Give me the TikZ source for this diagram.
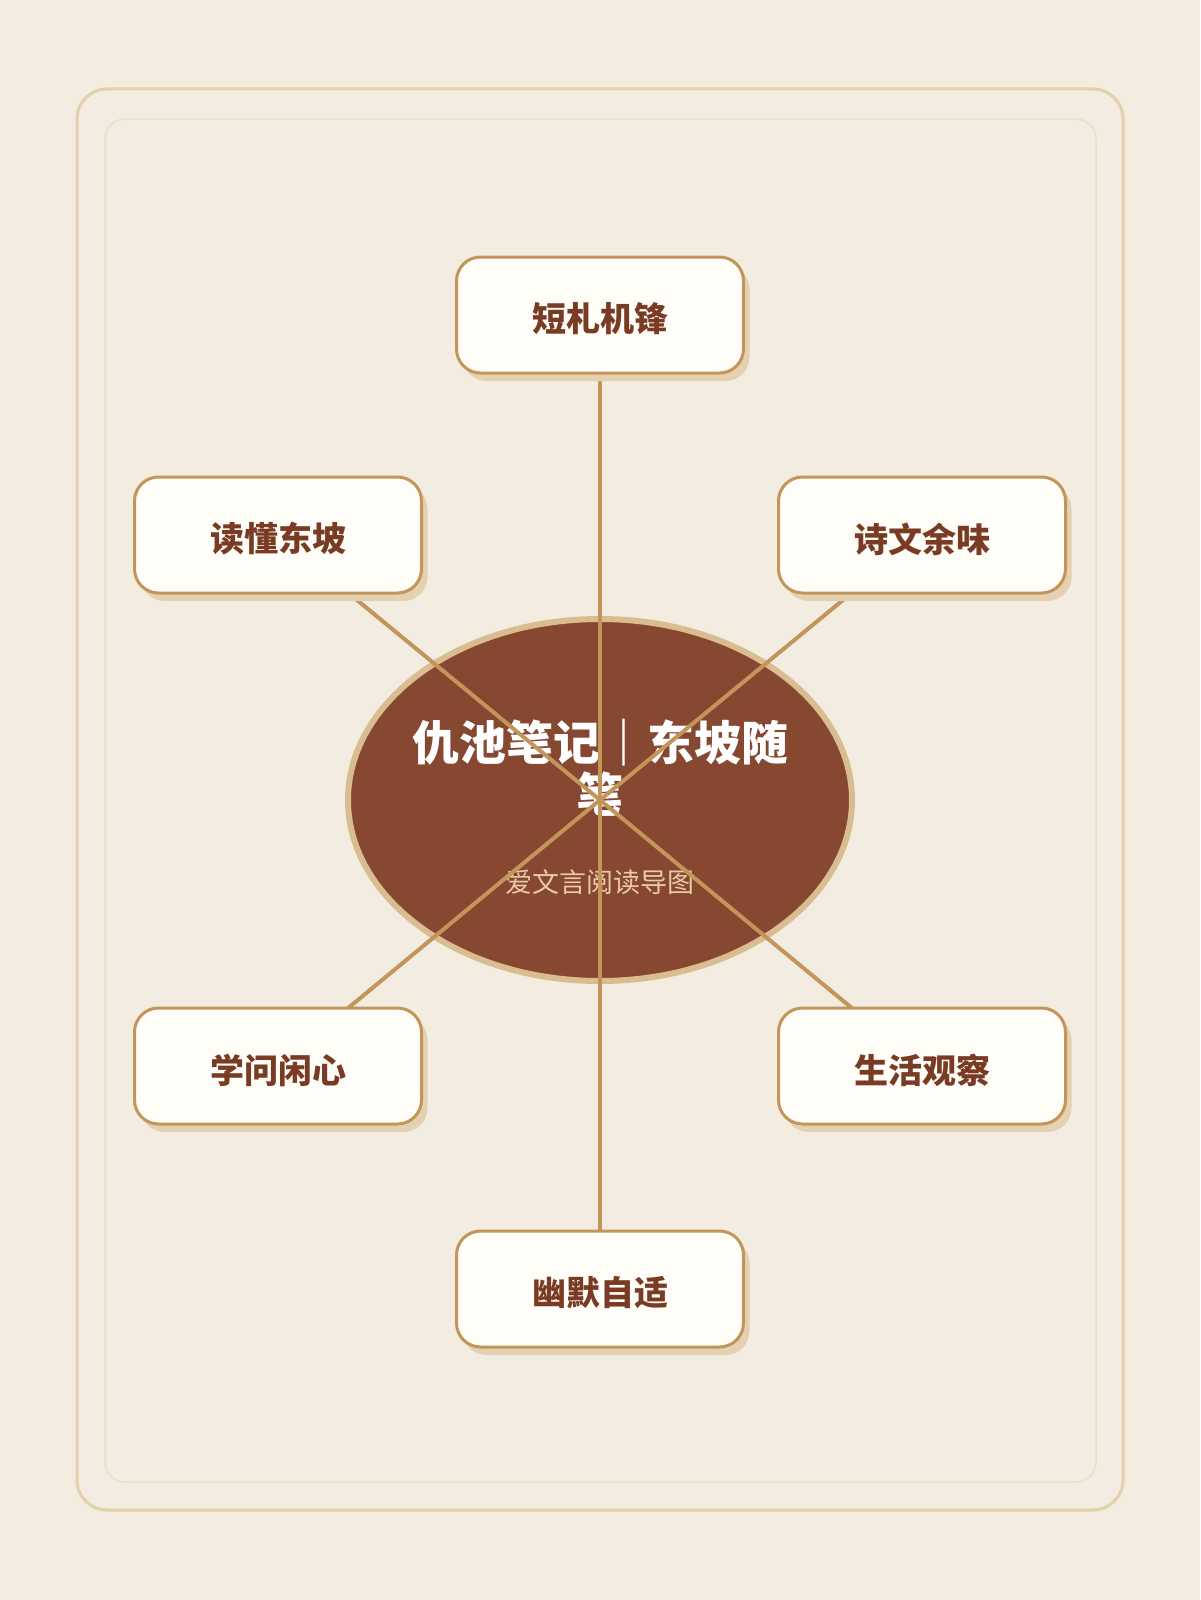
\documentclass[tikz,border=0pt]{standalone}
\usepackage{fontspec}
\usetikzlibrary{shapes.geometric,shadows}
\newfontfamily\cjk{Noto Sans CJK SC}
\definecolor{paper}{HTML}{F2ECE1}
\definecolor{frameout}{HTML}{E3D0AC}
\definecolor{framein}{HTML}{ECDFC6}
\definecolor{bark}{HTML}{864831}
\definecolor{barkrim}{HTML}{D9BD91}
\definecolor{gold}{HTML}{C4955A}
\definecolor{leaffill}{HTML}{FFFDF8}
\definecolor{leafshadow}{HTML}{E4D1B1}
\definecolor{leaftext}{HTML}{7A3B24}
\definecolor{subtext}{HTML}{EBC9A4}
\pgfdeclarelayer{bg}
\pgfdeclarelayer{links}
\pgfsetlayers{bg,links,main}
\tikzset{
	leaf/.style={draw=gold, line width=3pt, fill=leaffill, rounded corners=24pt,
		minimum width=287pt, minimum height=116pt, inner sep=0pt,
		font=\cjk\bfseries\fontsize{34}{40}\selectfont, text=leaftext,
		drop shadow={shadow xshift=6pt, shadow yshift=-8pt, fill=leafshadow, opacity=1}},
	link/.style={draw=gold, line width=4pt}
}
\begin{document}
\begin{tikzpicture}[x=1pt,y=-1pt]
\useasboundingbox (0,0) rectangle (1200,1600);
\begin{pgfonlayer}{bg}
% paper
\fill[paper] (0,0) rectangle (1200,1600);

% frames
\draw[frameout, line width=3pt, rounded corners=30pt] (77,89) rectangle (1123,1510);
\draw[framein, line width=1.5pt, rounded corners=20pt] (105,119) rectangle (1096,1482);

% centre
\node[ellipse, draw=barkrim, line width=6pt, fill=bark, minimum width=504pt, minimum height=362pt, inner sep=0pt] (title) at (600,800) {};
\node[align=center, text=white, font=\cjk\bfseries\fontsize{47}{52}\selectfont] (titletext) at (600,768) {仇池笔记｜东坡随\\笔};
\node[text=subtext, font=\cjk\fontsize{27}{32}\selectfont] (subtitle) at (600,882) {爱文言阅读导图};
\end{pgfonlayer}

% branches
\foreach \name/\x/\y/\txt in {top/600/315/短札机锋, ul/278/535/读懂东坡, ur/922/535/诗文余味,
	ll/278/1066/学问闲心, lr/922/1066/生活观察, bot/600/1289/幽默自适} {
	\node[leaf] (\name) at (\x,\y) {\raisebox{-4pt}[\height][\depth]{\txt}};
}

% links
\begin{pgfonlayer}{links}
\foreach \name in {top,ul,ur,ll,lr,bot} {
	\draw[link] (title.center) -- (\name.center);
}
\end{pgfonlayer}

\end{tikzpicture}
\end{document}
